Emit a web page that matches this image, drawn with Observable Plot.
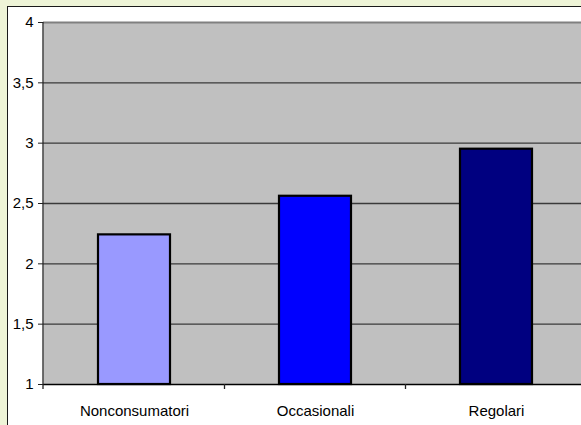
<!DOCTYPE html>
<html>
<head>
<meta charset="utf-8">
<script src="https://cdn.jsdelivr.net/npm/d3@7"></script>
<script src="https://cdn.jsdelivr.net/npm/@observablehq/plot@0.6"></script>
<style>
  html, body { margin: 0; padding: 0; }
  body { background: #EEF4D7; width: 581px; height: 425px; overflow: hidden; position: relative; }
  #frame { position: absolute; left: 7px; top: 6px; width: 600px; height: 440px; background: #fff; border: 1.5px solid #1a1a1a; box-sizing: border-box; }
  #chart { position: absolute; left: 0; top: 0; }
</style>
</head>
<body>
<div id="frame"></div>
<div id="chart"></div>
<script>
const categories = ["Nonconsumatori", "Occasionali", "Regolari"];
const values = [2.24, 2.56, 2.95];
const colors = ["#9999FF", "#0000FF", "#000080"];
const yTicks = [1, 1.5, 2, 2.5, 3, 3.5, 4];
const gridValues = [1.5, 2, 2.5, 3, 3.5];

const data = categories.map((c, i) => ({cat: c, value: values[i], color: colors[i]}));
const fmt = d => String(d).replace(".", ",");

const plot = Plot.plot({
  width: 581,
  height: 425,
  marginLeft: 43,
  marginTop: 22,
  marginBottom: 41,
  marginRight: 0,
  style: {background: "transparent", fontFamily: "'Liberation Sans', Arial, sans-serif", color: "#000", overflow: "hidden"},
  x: {domain: categories, range: [43, 588], paddingInner: 0.6, paddingOuter: 0.3},
  y: {domain: [1, 4]},
  marks: [
    Plot.frame({fill: "#C0C0C0", stroke: null}),
    Plot.ruleY(gridValues, {stroke: "#3a3a3a", strokeWidth: 1.3}),
    Plot.ruleY([4], {stroke: "#808080", strokeWidth: 2}),
    Plot.barY(data, {x: "cat", y1: 1, y2: "value", fill: "color", stroke: "#000", strokeWidth: 2.2}),
    Plot.ruleY([1], {stroke: "#000", strokeWidth: 1.3}),
    Plot.axisY({ticks: yTicks, tickFormat: fmt, tickSize: 5, tickPadding: 5, fontSize: 15, label: null, stroke: "#222"}),
    Plot.axisX({tickSize: 0, tickPadding: 21, fontSize: 15, label: null, letterSpacing: "0.3px"})
  ]
});
document.getElementById("chart").appendChild(plot);

// left axis line and category-boundary ticks, derived from the scales
const xs = plot.scale("x");
const ys = plot.scale("y");
const svg = d3.select(plot);
const y0 = ys.apply(1), y4 = ys.apply(4);
const bw = xs.bandwidth;
const gap = (xs.step !== undefined ? xs.step : bw / 0.4) - bw;
const g = svg.append("g").attr("stroke", "#222").attr("stroke-width", 1.3);
g.append("line").attr("x1", xs.range[0]).attr("x2", xs.range[0]).attr("y1", y4).attr("y2", y0 + 5);
categories.forEach(c => {
  const bx = xs.apply(c) + bw + gap / 2;
  g.append("line").attr("x1", bx).attr("x2", bx).attr("y1", y0).attr("y2", y0 + 5);
});
</script>
</body>
</html>
